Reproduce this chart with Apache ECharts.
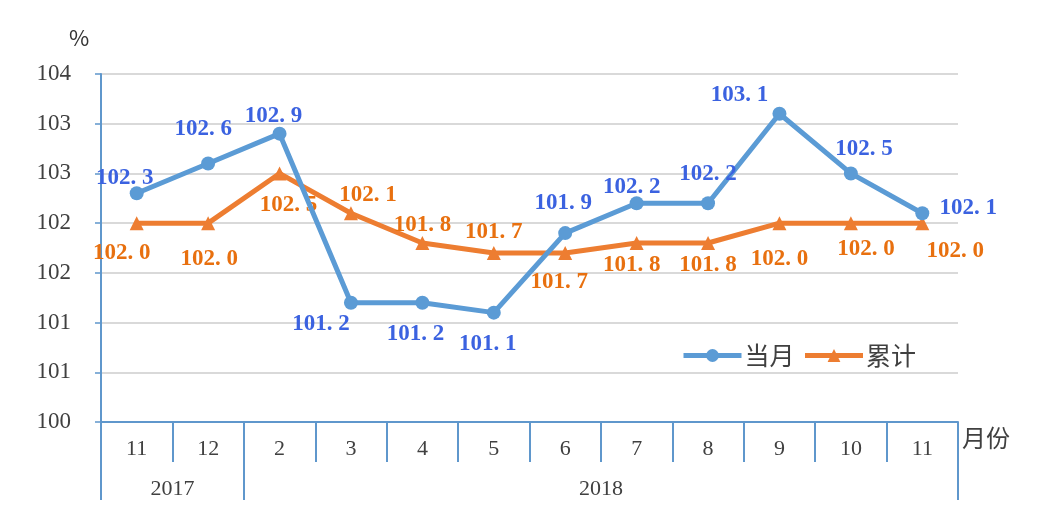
<!DOCTYPE html>
<html><head><meta charset="utf-8">
<script src="https://cdn.jsdelivr.net/npm/echarts@6/dist/echarts.min.js"></script>
<style>html,body{margin:0;padding:0;background:#fff}#c{width:1039px;height:506px}</style>
</head><body><div id="c"></div>
<script>
const months = ['11','12','2','3','4','5','6','7','8','9','10','11'];
const years = ['2017','2018'];
const yearCenters = [1, 7];       // centre of each year group, in category units
const yearBounds = [0, 2, 12];    // group boundaries, in category units
const monthly = [102.3,102.6,102.9,101.2,101.2,101.1,101.9,102.2,102.2,103.1,102.5,102.1];
const cumulative = [102.0,102.0,102.5,102.1,101.8,101.7,101.7,101.8,101.8,102.0,102.0,102.0];

// label offsets (styling)
const monthlyOff = [[-12,-15],[-5,-34],[-6,-18],[-30,21],[-7,31],[-6,31],[-2,-30],[-5,-16],[0,-29],[-40,-19],[13,-24],[46,-5]];
const cumOff = [[-15,30],[1,36],[9,32],[17,-18],[0,-18],[0,-21],[-6,29],[-5,22],[0,22],[0,36],[15,26],[33,28]];

const serif = '"Liberation Serif","DejaVu Serif",serif';
const cjk = '"Noto Sans CJK SC","Noto Sans",sans-serif';
const axisBlue = '#5f97cc';

function withLabels(vals, offs){
  return vals.map((v,i)=>({value:v, label:{offset:offs[i]}}));
}
const fmt = (p)=>p.value.toFixed(1).replace('.', '. ');

const chart = echarts.init(document.getElementById('c'));
chart.setOption({
  animation:false,
  title:{text:'%', left:64, top:22, textStyle:{fontFamily:cjk, fontSize:22, fontWeight:'normal', color:'#333'}},
  grid:{left:101, right:81, top:74, bottom:84},
  legend:{
    left:676, top:338, itemWidth:58, itemHeight:16, itemGap:8,
    lineStyle:{width:5},
    textStyle:{fontFamily:cjk, fontSize:25, color:'#404040', padding:[0,0,0,-2]},
    data:['当月','累计']
  },
  xAxis:[{
    type:'category', data:months, boundaryGap:true, position:'bottom',
    name:'月份', nameLocation:'end', nameGap:4,
    nameTextStyle:{fontFamily:cjk, fontSize:24, color:'#404040', align:'left', verticalAlign:'top', padding:[4,0,0,0]},
    axisLine:{lineStyle:{color:axisBlue, width:2}},
    axisTick:{show:true, interval:0, length:40, lineStyle:{color:axisBlue, width:2}},
    axisLabel:{interval:0, margin:16, fontFamily:serif, fontSize:22, color:'#404040'}
  },{
    type:'value', min:0, max:12, position:'bottom', offset:0,
    axisLine:{show:false}, splitLine:{show:false},
    axisTick:{show:true, customValues:yearBounds, length:78, lineStyle:{color:axisBlue, width:2}},
    axisLabel:{customValues:yearCenters, margin:56, fontFamily:serif, fontSize:22, color:'#404040',
      formatter:(v)=>years[yearCenters.indexOf(v)]}
  }],
  yAxis:{
    type:'value', min:100, max:103.5, interval:0.5,
    axisLine:{show:true, lineStyle:{color:axisBlue, width:2}},
    axisTick:{show:true, length:6, lineStyle:{color:axisBlue, width:1.5}},
    splitLine:{lineStyle:{color:'#d9d9d9', width:2}},
    axisLabel:{margin:30, fontFamily:serif, fontSize:23, color:'#404040', formatter:(v)=>String(Math.round(v))}
  },
  series:[{
    name:'当月', type:'line', xAxisIndex:0, data:withLabels(monthly, monthlyOff),
    symbol:'circle', symbolSize:14,
    lineStyle:{color:'#5b9bd5', width:5}, itemStyle:{color:'#5b9bd5'},
    label:{show:true, position:'inside', fontFamily:serif, fontWeight:'bold', fontSize:23, color:'#3b62e0', formatter:fmt},
    z:3
  },{
    name:'累计', type:'line', xAxisIndex:0, data:withLabels(cumulative, cumOff),
    symbol:'triangle', symbolSize:14,
    lineStyle:{color:'#ed7d31', width:5}, itemStyle:{color:'#ed7d31'},
    label:{show:true, position:'inside', fontFamily:serif, fontWeight:'bold', fontSize:23, color:'#e8700f', formatter:fmt},
    z:2
  }]
});
</script></body></html>
